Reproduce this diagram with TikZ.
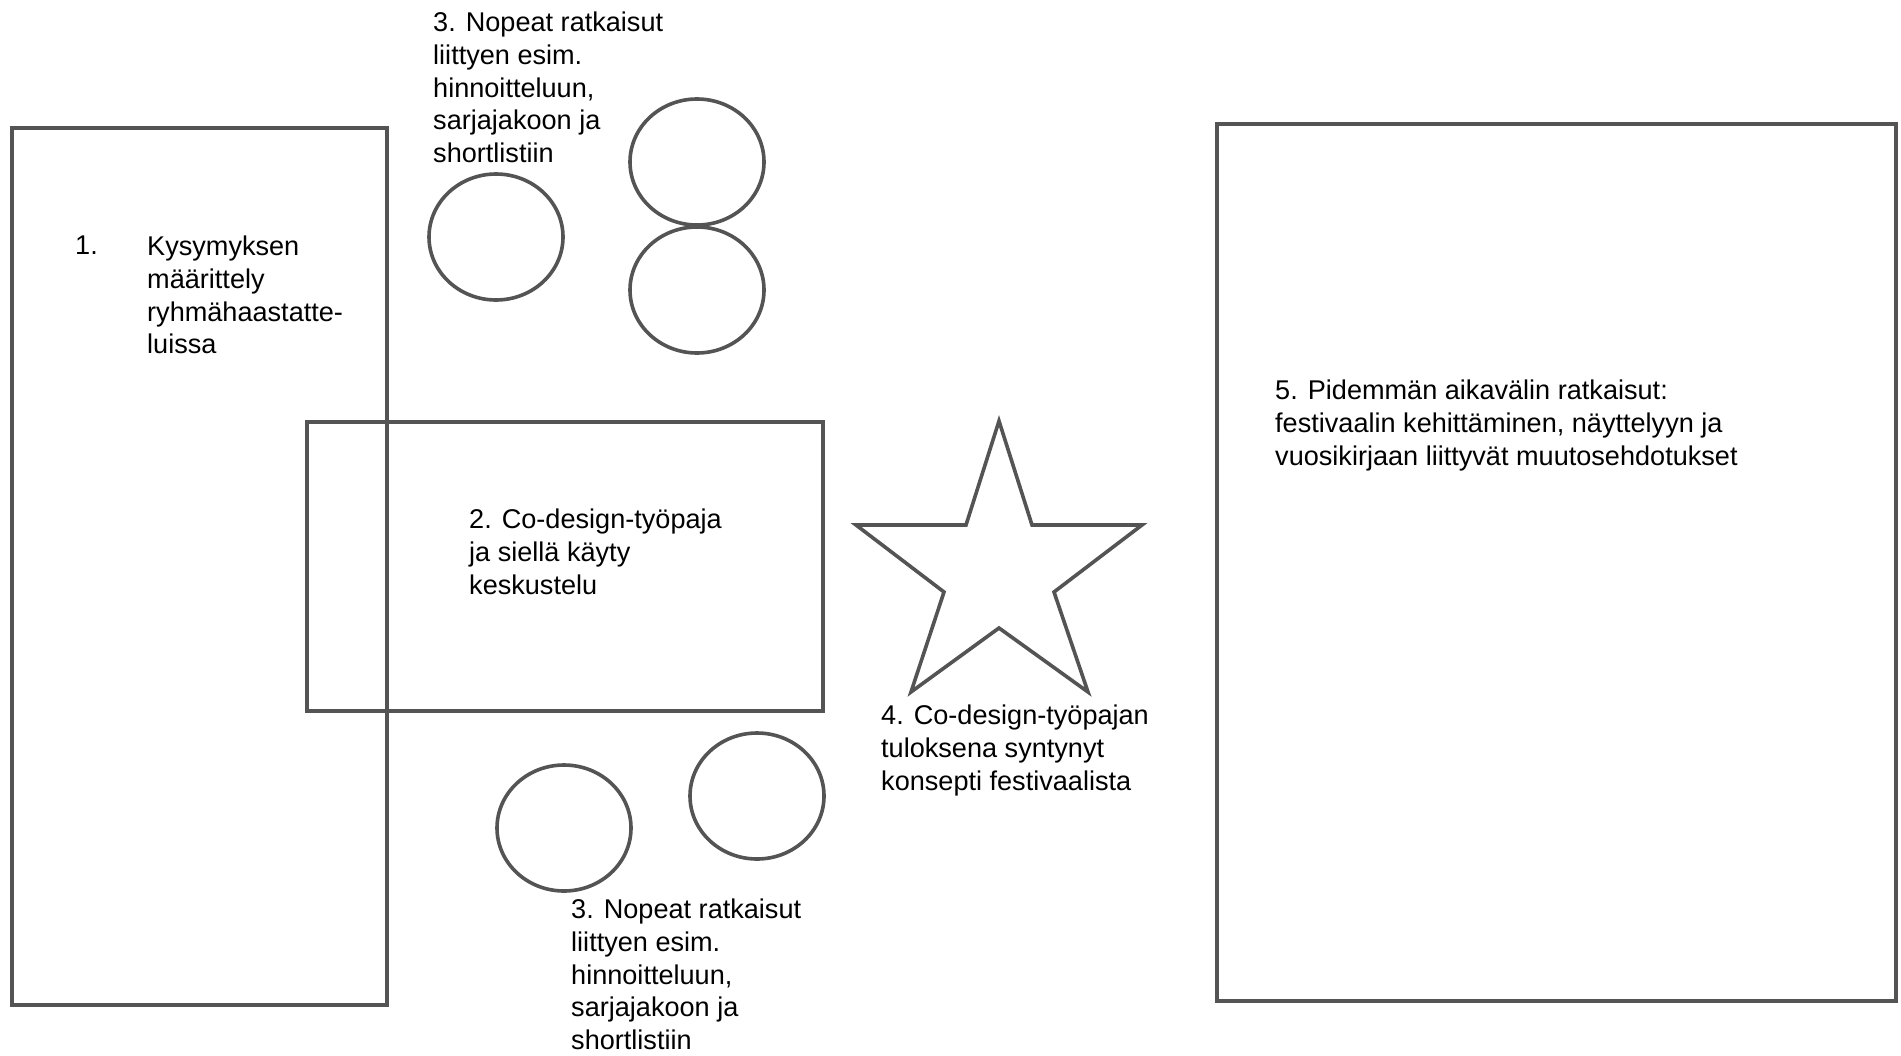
\documentclass[tikz,border=0pt]{standalone}
\usepackage{fontspec}
\setmainfont{Liberation Sans}
\begin{document}
\begin{tikzpicture}[x=1pt,y=-1pt,
  outline/.style={draw=black!67, line width=3.6pt, line join=miter},
  label/.style={anchor=north west, inner sep=0pt, align=left,
    font=\fontsize{27.1}{32.7}\selectfont, text=black}]
\useasboundingbox (0,0) rectangle (1901,1055);
\fill[white] (0,0) rectangle (1901,1055);

% boxes
\draw[outline] (12,128) rectangle (387,1005);
\draw[outline] (307,422) rectangle (823,711);
\draw[outline] (1217,124) rectangle (1896,1001);

% small circles
\draw[outline] (496,237) ellipse [x radius=67, y radius=63];
\draw[outline] (697,162) ellipse [x radius=67, y radius=63];
\draw[outline] (697,290) ellipse [x radius=67, y radius=63];
\draw[outline] (564,828) ellipse [x radius=67, y radius=63];
\draw[outline] (757,796) ellipse [x radius=67, y radius=63];

% star
\draw[outline] (999,421) -- (1032,525) -- (1142,525) -- (1054,592) -- (1088,692)
  -- (999,628) -- (911,692) -- (944,592) -- (856,525) -- (966,525) -- cycle;

% labels
\node[label] (t3a) at (433,12) {3. Nopeat ratkaisut\\liittyen esim.\\hinnoitteluun,\\sarjajakoon ja\\shortlistiin};
\node[label] (t1n) at (75,236) {1.};
\node[label] (t1) at (147,236) {Kysymyksen\\määrittely\\ryhmähaastatte-\\luissa};
\node[label] (t2) at (469,509) {2. Co-design-työpaja\\ja siellä käyty\\keskustelu};
\node[label] (t4) at (881,705) {4. Co-design-työpajan\\tuloksena syntynyt\\konsepti festivaalista};
\node[label] (t3b) at (571,899) {3. Nopeat ratkaisut\\liittyen esim.\\hinnoitteluun,\\sarjajakoon ja\\shortlistiin};
\node[label] (t5) at (1275,380) {5. Pidemmän aikavälin ratkaisut:\\festivaalin kehittäminen, näyttelyyn ja\\vuosikirjaan liittyvät muutosehdotukset};
\end{tikzpicture}
\end{document}
